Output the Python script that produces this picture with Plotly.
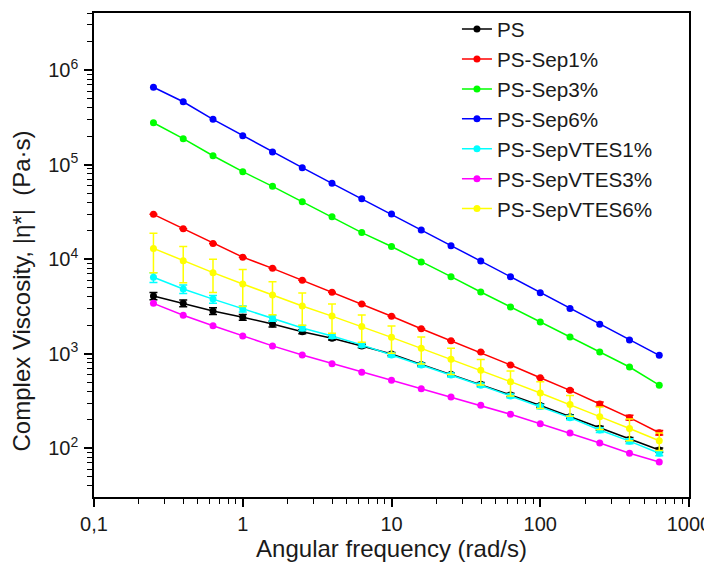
import plotly.graph_objects as go

# Angular frequency (rad/s)
freq = [0.251, 0.398, 0.631, 1.0, 1.585, 2.512, 3.981, 6.31, 10.0, 15.85,
        25.12, 39.81, 63.1, 100.0, 158.5, 251.2, 398.1, 631.0]

# Complex viscosity |eta*| (Pa.s)
ps = [4080, 3420, 2830, 2430, 2060, 1710, 1460, 1210, 993, 771,
      605, 475, 366, 283, 216, 163, 124, 96]
ps_err = [350, 280, 230, 170, 140, 80, 60, 50, 40, 30,
          25, 20, 15, 12, 10, 8, 6, 5]

sep1 = [29800, 21000, 14600, 10500, 8000, 5980, 4470, 3360, 2490, 1840,
        1370, 1040, 760, 558, 410, 294, 211, 146]
sep1_err = [0, 0, 0, 0, 0, 0, 0, 0, 0, 0,
            0, 0, 0, 0, 8, 15, 12, 8]

sep3 = [277000, 188000, 124000, 84100, 58900, 40500, 28100, 19100, 13600, 9330,
        6530, 4500, 3120, 2170, 1500, 1040, 724, 465]

sep6 = [657000, 462000, 301000, 202000, 136000, 92700, 63400, 43600, 30000, 20300,
        13900, 9550, 6530, 4420, 3000, 2050, 1400, 962]

vtes1 = [6430, 4830, 3780, 2980, 2370, 1870, 1540, 1240, 970, 760,
         596, 465, 358, 276, 211, 156, 119, 88.5]
vtes1_err = [750, 500, 360, 220, 170, 120, 80, 60, 45, 35,
             28, 22, 18, 14, 11, 9, 7, 5]

vtes3 = [3410, 2550, 1980, 1540, 1210, 970, 785, 637, 524, 427,
         349, 285, 229, 182, 145, 114, 88.5, 71.6]

vtes6 = [13000, 9640, 7200, 5460, 4180, 3200, 2500, 1940, 1490, 1140,
         873, 668, 507, 384, 290, 216, 162, 120]
vtes6_err = [5800, 4000, 2750, 2300, 1600, 1200, 850, 620, 480, 360,
             270, 200, 150, 120, 72, 58, 42, 25]

series_names = ["PS", "PS-Sep1%", "PS-Sep3%", "PS-Sep6%",
                "PS-SepVTES1%", "PS-SepVTES3%", "PS-SepVTES6%"]
series_values = [ps, sep1, sep3, sep6, vtes1, vtes3, vtes6]
series_errors = [ps_err, sep1_err, None, None, vtes1_err, None, vtes6_err]
series_colors = ["#000000", "#FF0000", "#00FF00", "#0000FF",
                 "#00FFFF", "#FF00FF", "#FFFF00"]

x_tickvals = [0.1, 1, 10, 100, 1000]
x_ticktext = ["0,1", "1", "10", "100", "1000"]
y_tickvals = [1e2, 1e3, 1e4, 1e5, 1e6]
y_ticktext = ["10<sup>2</sup>", "10<sup>3</sup>", "10<sup>4</sup>",
              "10<sup>5</sup>", "10<sup>6</sup>"]

x_minor = [m * 10 ** e for e in range(-1, 3) for m in range(2, 10)]
y_minor = [m * 10 ** e for e in range(1, 7) for m in range(2, 10)]

FONT = "Arial, Liberation Sans, sans-serif"

fig = go.Figure()
for name, vals, errs, col in zip(series_names, series_values, series_errors, series_colors):
    err = None
    if errs is not None:
        err = dict(type="data", array=errs, visible=True, color=col,
                   thickness=1.5, width=4)
    fig.add_trace(go.Scatter(
        x=freq, y=vals, name=name, mode="lines+markers",
        line=dict(color=col, width=1.5),
        marker=dict(color=col, size=7),
        error_y=err,
    ))

axis_common = dict(
    type="log", showline=True, linecolor="#000000", linewidth=1.5, mirror=True,
    ticks="outside", ticklen=8, tickwidth=1.5, tickcolor="#000000",
    showgrid=False, zeroline=False,
    tickfont=dict(family=FONT, size=20, color="#1a1a1a"),
)

fig.update_xaxes(
    **axis_common,
    range=[-1, 3],
    tickvals=x_tickvals, ticktext=x_ticktext,
    minor=dict(tickvals=x_minor, ticks="outside", ticklen=5, tickwidth=1,
               tickcolor="#000000", showgrid=False),
    title=dict(text="Angular frequency (rad/s)",
               font=dict(family=FONT, size=24, color="#1a1a1a"), standoff=6),
    ticklabelstandoff=0,
)
fig.update_yaxes(
    **axis_common,
    range=[1.485, 6.603],
    tickvals=y_tickvals, ticktext=y_ticktext,
    minor=dict(tickvals=y_minor, ticks="outside", ticklen=5, tickwidth=1,
               tickcolor="#000000", showgrid=False),
    ticklabelstandoff=2,
)

fig.add_annotation(
    text="Complex Viscosity, |η*|  (Pa·s)",
    xref="paper", yref="paper", x=-0.122, y=0.4255,
    xanchor="center", yanchor="middle", textangle=-90, showarrow=False,
    font=dict(family=FONT, size=24, color="#1a1a1a"),
)

fig.update_layout(
    width=704, height=556,
    margin=dict(l=86, r=23, t=5, b=67, autoexpand=False),
    paper_bgcolor="#FFFFFF", plot_bgcolor="#FFFFFF",
    showlegend=True,
    legend=dict(x=0.61, y=1.008, xanchor="left", yanchor="top",
                bgcolor="rgba(0,0,0,0)", borderwidth=0,
                font=dict(family=FONT, size=20.7, color="#1a1a1a")),
)

fig.write_html("out.html")
